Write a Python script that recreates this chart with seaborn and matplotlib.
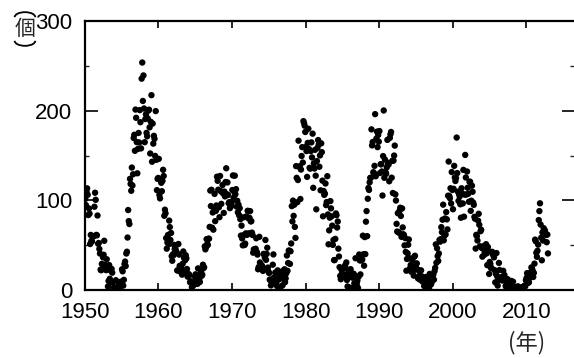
import numpy as np
import pandas as pd
import matplotlib
matplotlib.use('Agg')
import matplotlib.pyplot as plt
from matplotlib.patches import Arc
import seaborn as sns

# monthly sunspot numbers, Jan..Dec of each year
ssn_1950s = [
    101.6, 94.8, 109.7, 113.4, 106.2, 83.6, 91.0, 85.2, 51.3, 61.4, 54.8, 54.1,
    59.9, 59.9, 59.9, 92.9, 108.5, 100.6, 61.5, 61.0, 83.1, 51.6, 52.4, 45.8,
    40.7, 22.7, 22.0, 29.1, 23.4, 36.4, 39.3, 54.9, 28.2, 23.8, 22.1, 34.3,
    26.5, 3.9, 10.0, 27.8, 12.5, 21.8, 8.6, 23.5, 19.3, 8.2, 1.6, 2.5,
    0.2, 0.5, 10.9, 1.8, 0.8, 0.2, 4.8, 8.4, 1.5, 7.0, 9.2, 7.6,
    23.1, 20.8, 4.9, 11.3, 28.9, 31.7, 26.7, 40.7, 42.7, 58.5, 89.2, 76.9,
    73.6, 124.0, 118.4, 110.7, 136.6, 116.6, 129.1, 169.6, 173.2, 155.3, 201.3, 192.1,
    165.0, 130.2, 157.4, 175.2, 164.6, 200.7, 187.2, 158.0, 235.8, 253.8, 210.9, 239.4,
    202.5, 164.9, 190.7, 196.0, 175.3, 171.5, 191.4, 200.2, 201.2, 181.5, 152.3, 187.6,
    217.4, 143.1, 185.7, 163.3, 172.0, 168.7, 149.6, 199.6, 145.2, 111.4, 124.0, 125.0,
]
ssn_1960s = [
    146.3, 106.0, 102.2, 122.0, 119.6, 110.2, 121.7, 134.1, 127.2, 82.8, 89.6, 85.6,
    57.9, 46.1, 53.0, 61.4, 51.0, 77.4, 70.2, 55.8, 63.6, 37.7, 32.6, 39.9,
    38.7, 50.3, 45.6, 46.4, 43.7, 42.0, 21.8, 21.8, 51.3, 39.5, 26.9, 23.2,
    19.8, 24.4, 17.1, 29.3, 43.0, 35.9, 19.6, 33.2, 38.8, 35.3, 23.4, 14.9,
    15.3, 17.7, 16.5, 8.6, 9.5, 9.1, 3.1, 9.3, 4.7, 6.1, 7.4, 15.1,
    17.5, 14.2, 11.7, 6.8, 24.1, 15.9, 11.9, 8.9, 16.8, 20.1, 15.8, 17.0,
    28.2, 24.4, 25.3, 48.7, 45.3, 47.7, 56.7, 51.2, 50.2, 57.2, 57.2, 70.4,
    110.9, 93.6, 111.8, 69.5, 86.5, 67.3, 91.5, 107.2, 76.8, 88.2, 94.3, 126.4,
    121.8, 111.9, 92.2, 81.2, 127.2, 110.3, 96.1, 109.3, 117.2, 107.7, 86.0, 109.8,
    104.4, 120.5, 135.8, 106.8, 120.0, 106.0, 96.8, 98.0, 91.3, 95.7, 93.5, 97.9,
]
ssn_1970s = [
    111.5, 127.8, 102.9, 109.5, 127.5, 106.8, 112.5, 93.0, 99.5, 86.6, 95.2, 83.5,
    91.3, 79.0, 60.7, 71.8, 57.5, 49.8, 81.0, 61.4, 50.2, 51.7, 63.2, 82.2,
    61.5, 88.4, 80.1, 63.2, 80.5, 88.0, 76.5, 76.8, 64.0, 61.3, 41.6, 45.3,
    43.4, 42.9, 46.0, 57.7, 42.4, 39.5, 23.1, 25.6, 59.3, 30.7, 23.9, 23.3,
    27.6, 26.0, 21.3, 40.3, 39.5, 36.0, 55.8, 33.6, 40.2, 47.1, 25.0, 20.5,
    18.9, 11.5, 11.5, 5.1, 9.0, 11.4, 28.2, 39.7, 13.9, 9.1, 19.4, 7.8,
    8.1, 4.3, 21.9, 18.8, 12.4, 12.2, 1.9, 16.4, 13.5, 20.6, 5.2, 15.3,
    16.4, 23.1, 8.7, 12.9, 18.6, 38.5, 21.4, 30.1, 44.0, 43.8, 29.1, 43.2,
    51.9, 93.6, 76.5, 99.7, 82.7, 95.1, 70.4, 58.1, 138.2, 125.1, 97.9, 122.7,
    166.6, 137.5, 138.0, 101.5, 134.4, 149.5, 159.4, 142.2, 188.4, 186.2, 183.3, 176.3,
]
ssn_1980s = [
    159.6, 155.0, 126.2, 164.1, 179.9, 157.3, 136.3, 135.4, 155.0, 164.7, 147.9, 174.4,
    114.0, 141.3, 135.5, 156.4, 127.5, 90.0, 143.8, 158.7, 167.3, 162.4, 137.5, 150.1,
    111.2, 163.6, 153.8, 122.0, 82.2, 110.4, 106.1, 107.6, 118.8, 94.7, 98.1, 127.0,
    84.3, 51.0, 66.5, 80.7, 99.2, 91.1, 82.2, 71.8, 50.3, 55.8, 33.3, 33.4,
    57.0, 85.4, 83.5, 69.7, 76.4, 46.1, 37.4, 25.5, 15.7, 12.0, 22.8, 18.7,
    16.5, 15.9, 17.2, 16.2, 27.5, 24.2, 30.7, 11.1, 3.9, 18.6, 16.2, 17.3,
    2.5, 23.2, 15.1, 18.5, 13.7, 1.1, 18.1, 7.4, 3.8, 35.4, 15.2, 6.8,
    10.4, 2.4, 14.7, 39.6, 33.0, 17.4, 33.0, 38.7, 33.9, 60.6, 39.9, 27.1,
    59.0, 40.0, 76.2, 88.0, 60.1, 101.8, 113.8, 111.6, 120.1, 125.1, 125.1, 179.2,
    161.3, 165.1, 131.4, 130.6, 138.5, 196.2, 126.9, 168.9, 176.7, 159.4, 173.0, 165.5,
]
ssn_1990s = [
    177.3, 130.5, 140.3, 140.3, 132.2, 105.4, 149.4, 200.3, 125.2, 145.5, 131.4, 129.7,
    136.9, 167.5, 141.9, 140.0, 121.3, 169.7, 173.7, 176.3, 125.3, 144.1, 108.2, 144.4,
    150.0, 161.1, 106.7, 99.8, 73.8, 65.2, 85.7, 64.5, 63.9, 88.7, 91.8, 82.6,
    59.3, 91.0, 69.8, 62.2, 61.3, 49.8, 57.9, 42.5, 21.5, 34.6, 40.9, 50.5,
    56.4, 35.5, 24.2, 27.9, 20.3, 26.3, 32.8, 21.2, 16.0, 37.3, 38.2, 25.7,
    24.1, 29.7, 22.9, 12.9, 22.0, 15.9, 11.6, 13.4, 21.9, 15.3, 9.6, 9.9,
    12.1, 4.4, 9.5, 7.3, 14.5, 11.6, 9.5, 13.0, 1.4, 2.0, 17.9, 13.1,
    6.1, 7.8, 15.0, 16.4, 17.3, 11.5, 21.1, 24.7, 50.9, 30.4, 46.5, 37.8,
    32.4, 40.7, 55.9, 53.9, 56.7, 70.1, 64.5, 78.4, 95.2, 55.4, 60.6, 79.8,
    61.9, 86.9, 78.8, 67.6, 105.2, 143.3, 104.9, 102.4, 113.5, 96.5, 131.6, 111.6,
]
ssn_2000s = [
    90.1, 112.9, 138.5, 125.5, 121.6, 124.9, 170.1, 130.5, 109.7, 99.4, 106.8, 104.4,
    95.6, 80.6, 113.5, 107.7, 96.6, 134.0, 81.8, 106.4, 150.7, 125.5, 106.5, 132.2,
    114.1, 107.4, 98.4, 120.7, 120.8, 88.3, 99.6, 116.4, 109.6, 97.5, 95.0, 81.6,
    79.5, 46.2, 61.5, 60.0, 55.2, 77.4, 85.0, 72.7, 48.8, 65.6, 67.2, 47.0,
    37.2, 46.0, 48.9, 39.3, 41.5, 43.2, 51.1, 40.9, 27.7, 48.0, 43.5, 17.9,
    31.3, 29.2, 24.5, 24.4, 42.6, 39.6, 39.9, 36.4, 22.1, 8.5, 18.0, 41.2,
    15.3, 4.9, 10.6, 30.2, 22.3, 13.9, 12.2, 12.9, 14.4, 10.5, 21.4, 13.6,
    16.8, 10.7, 4.5, 3.4, 11.7, 12.1, 9.7, 6.0, 2.4, 0.9, 1.7, 10.1,
    3.3, 2.1, 9.3, 2.9, 2.9, 3.1, 0.5, 0.5, 1.1, 2.9, 4.1, 0.8,
    1.5, 1.4, 0.7, 1.2, 2.9, 2.9, 3.2, 0.0, 4.3, 4.8, 4.1, 10.8,
]
ssn_2010s = [
    13.2, 18.8, 15.4, 8.0, 8.7, 13.6, 16.1, 19.6, 25.2, 23.5, 21.6, 14.5,
    19.1, 29.4, 56.2, 54.4, 41.6, 37.0, 43.8, 50.6, 78.0, 88.0, 96.7, 73.0,
    58.3, 33.1, 64.2, 55.2, 69.0, 64.5, 66.5, 63.0, 61.4, 53.3, 61.8, 40.8,
]

start_year = 1950
x_ticks = [1950, 1960, 1970, 1980, 1990, 2000, 2010]
y_ticks = [0, 100, 200, 300]

values = ssn_1950s + ssn_1960s + ssn_1970s + ssn_1980s + ssn_1990s + ssn_2000s + ssn_2010s
months = np.arange(len(values))
df = pd.DataFrame({'year': start_year + (months + 0.5) / 12, 'count': values})

sns.set_style('white')
plt.rcParams['font.family'] = ['Liberation Sans', 'Noto Sans CJK JP', 'DejaVu Sans']

fig = plt.figure(figsize=(5.74, 3.58), dpi=100)
ax = fig.add_axes([0.148, 0.19, 0.852, 0.751])

sns.scatterplot(data=df, x='year', y='count', color='black', s=21,
                edgecolor='none', ax=ax, legend=False)

ax.set_xlim(1950, 2016.5)
ax.set_ylim(0, 300)
ax.set_xticks(x_ticks)
ax.set_yticks(y_ticks)
ax.set_yticks([50, 150, 250], minor=True)
ax.set_xlabel('')
ax.set_ylabel('')

for side in ['left', 'bottom', 'top']:
    ax.spines[side].set_linewidth(1.6)
    ax.spines[side].set_color('black')
ax.spines['right'].set_visible(False)

ax.tick_params(axis='both', which='major', direction='in', labelsize=16,
               width=1.2, colors='black')
ax.tick_params(axis='y', which='major', length=9, pad=9, right=True, left=True)
ax.tick_params(axis='y', which='minor', length=3, width=1.0, right=True, left=True,
               direction='in')
ax.tick_params(axis='x', which='major', length=5, pad=9, bottom=True, top=True)

# vertical unit label: (個) written top to bottom, arcs as parentheses
fig.add_artist(Arc((0.0435, 0.952), 0.036, 0.028, theta1=0, theta2=180,
                   transform=fig.transFigure, color='black', lw=1.3))
fig.text(0.0435, 0.919, '個', ha='center', va='center', fontsize=15,
         family=['Noto Sans CJK JP'])
fig.add_artist(Arc((0.0435, 0.886), 0.036, 0.028, theta1=180, theta2=360,
                   transform=fig.transFigure, color='black', lw=1.3))
fig.text(0.918, 0.042, '(年)', ha='center', va='center', fontsize=16,
         family=['Noto Sans CJK JP'])

fig.savefig('out.png', dpi=100)
